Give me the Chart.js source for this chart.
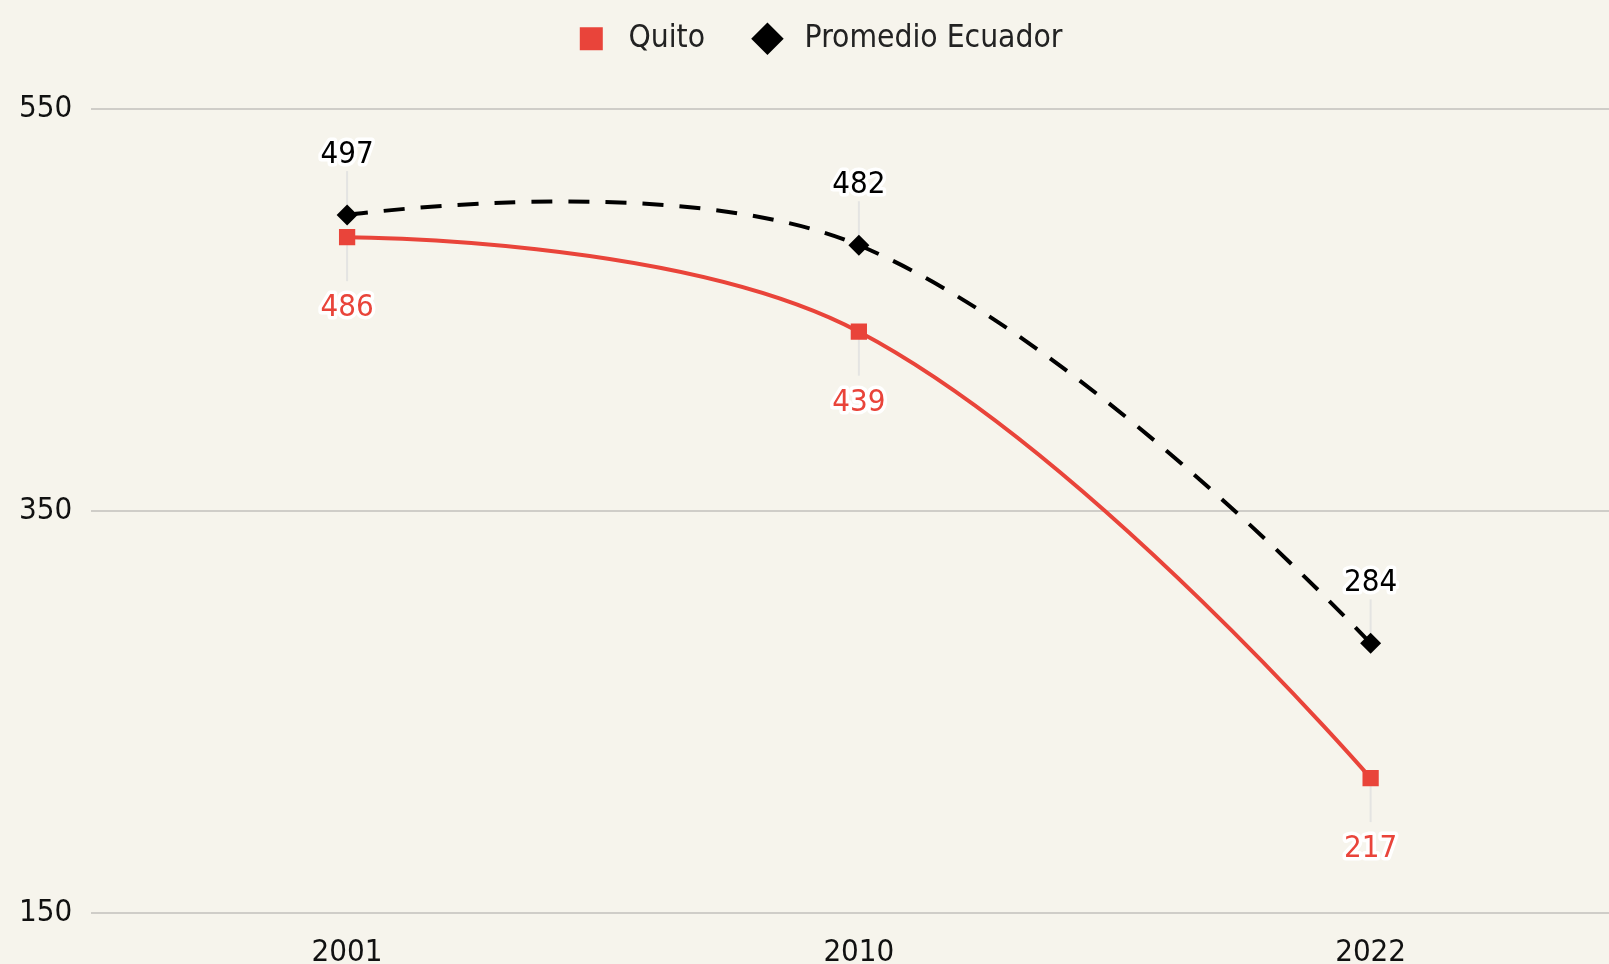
<!DOCTYPE html>
<html>
<head>
<meta charset="utf-8">
<script src="https://cdn.jsdelivr.net/npm/chart.js@4.4.1/dist/chart.umd.min.js"></script>
<style>
  html, body { margin: 0; padding: 0; background: #f6f4ec; overflow: hidden; }
  #wrap { position: relative; width: 1638px; height: 986px; }
</style>
</head>
<body>
<div id="wrap"><canvas id="poblacionChart"></canvas></div>
<script>
const years = ['2001', '2010', '2022']
const quito = [486, 439, 217]
const promedio = [497, 482, 284]

const red = '#e9443a'
const fontFam = '"DejaVu Sans Condensed", "DejaVu Sans", sans-serif'

// extra room under the legend
const legendGap = {
  id: 'legendGap',
  beforeInit(chart) {
    const fit = chart.legend.fit
    chart.legend.fit = function () {
      fit.bind(chart.legend)()
      this.height += 44
    }
  }
}

// spline ends start flat on the point (no handle at the first/last point)
const splineEnds = {
  id: 'splineEnds',
  beforeDatasetDraw(chart, args) {
    const meta = args.meta
    meta.dataset.updateControlPoints(chart.chartArea, 'x')
    const pts = meta.data
    const first = pts[0], last = pts[pts.length - 1]
    first.cp2x = first.x; first.cp2y = first.y
    last.cp1x = last.x; last.cp1y = last.y
  }
}

// value labels with white halo + thin leader line
const valueLabels = {
  id: 'valueLabels',
  beforeDatasetsDraw(chart) {
    const ctx = chart.ctx
    ctx.save()
    ctx.strokeStyle = '#e4e4e2'
    ctx.lineWidth = 2
    chart.data.datasets.forEach((ds, i) => {
      chart.getDatasetMeta(i).data.forEach(pt => {
        ctx.beginPath()
        ctx.moveTo(pt.x, pt.y)
        ctx.lineTo(pt.x, ds.labelPos === 'top' ? pt.y - 44 : pt.y + 44)
        ctx.stroke()
      })
    })
    ctx.restore()
  },
  afterDatasetsDraw(chart) {
    const ctx = chart.ctx
    ctx.save()
    ctx.font = '31px ' + fontFam
    ctx.textAlign = 'center'
    ctx.textBaseline = 'middle'
    ctx.lineJoin = 'round'
    chart.data.datasets.forEach((ds, i) => {
      chart.getDatasetMeta(i).data.forEach((pt, j) => {
        const y = ds.labelPos === 'top' ? pt.y - 60 : pt.y + 71
        const txt = String(ds.data[j])
        ctx.strokeStyle = '#ffffff'
        ctx.lineWidth = 7
        ctx.strokeText(txt, pt.x, y)
        ctx.fillStyle = ds.labelColor
        ctx.fillText(txt, pt.x, y)
      })
    })
    ctx.restore()
  }
}

const ctx = document.getElementById('poblacionChart')
new Chart(ctx, {
  type: 'line',
  data: {
    labels: years,
    datasets: [{
      label: 'Quito',
      data: quito,
      borderColor: red,
      backgroundColor: red,
      pointBackgroundColor: red,
      pointBorderWidth: 0,
      pointStyle: 'rect',
      pointRadius: 11.5,
      pointHoverRadius: 11.5,
      borderWidth: 4,
      tension: 0.4,
      labelPos: 'bottom',
      labelColor: red
    }, {
      label: 'Promedio Ecuador',
      data: promedio,
      borderColor: '#000000',
      backgroundColor: '#000000',
      pointBackgroundColor: '#000000',
      pointBorderWidth: 0,
      pointStyle: 'rectRot',
      pointRadius: 10.5,
      pointHoverRadius: 10.5,
      borderWidth: 4,
      borderDash: [21, 16],
      tension: 0.4,
      labelPos: 'top',
      labelColor: '#000000'
    }]
  },
  options: {
    responsive: true,
    maintainAspectRatio: false,
    animation: false,
    layout: { padding: { left: 0, right: 0, top: 0, bottom: 0 } },
    plugins: {
      tooltip: { enabled: false },
      legend: {
        position: 'top',
        labels: {
          usePointStyle: true,
          boxHeight: 23,
          color: '#222222',
          padding: 23,
          font: { family: fontFam, size: 31.5 },
          generateLabels(chart) {
            const items = Chart.defaults.plugins.legend.labels.generateLabels(chart)
            items.forEach((it, i) => { it.text = '\u2009' + it.text + (i === 0 ? '  \u2009' : '') })
            return items
          }
        }
      }
    },
    scales: {
      x: {
        offset: true,
        grid: { display: false },
        border: { display: false },
        ticks: { color: '#111111', padding: 14, font: { family: fontFam, size: 31 } }
      },
      y: {
        min: 150,
        max: 550,
        grid: { color: '#cfcdc8', lineWidth: 2, drawTicks: false },
        border: { display: false },
        ticks: {
          stepSize: 200,
          color: '#111111',
          padding: 19,
          font: { family: fontFam, size: 31 }
        }
      }
    }
  },
  plugins: [legendGap, splineEnds, valueLabels]
})
</script>
</body>
</html>
